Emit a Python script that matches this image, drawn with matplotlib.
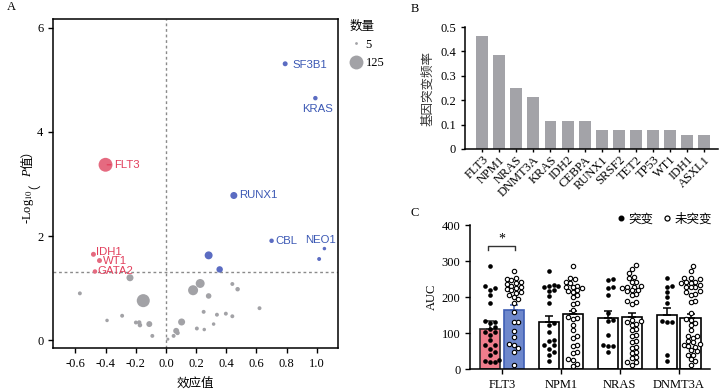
import numpy as np
import matplotlib
matplotlib.use('Agg')
import matplotlib.pyplot as plt
from matplotlib.lines import Line2D

plt.rcParams['font.family'] = ['Liberation Serif', 'Noto Sans CJK SC']
plt.rcParams['mathtext.fontset'] = 'stix'
plt.rcParams['axes.linewidth'] = 1.1
plt.rcParams['xtick.major.width'] = 1.0
plt.rcParams['ytick.major.width'] = 1.0

# ---------------- panel A : effect vs -log10(p), size = count
geneNames = ['SF3B1', 'KRAS', 'FLT3', 'RUNX1', 'CBL', 'NEO1', '', '', '', 'IDH1', 'WT1', 'GATA2',
             '', '', '', '', '', '', '', '', '', '', '', '', '', '', '',
             '', '', '', '', '', '', '', '', '', '', '', '', '']
effectSize = [0.79, 0.99, -0.40, 0.45, 0.70, 1.05, 1.015, 0.283, 0.356, -0.48, -0.44, -0.47,
              -0.238, -0.57, -0.15, 0.18, 0.227, 0.283, 0.44, 0.475, 0.62, 0.25, 0.338, 0.397, 0.44, 0.316,
              0.205, 0.254, 0.104, 0.068, 0.077, 0.051, 0.013, -0.09, -0.11, -0.177, -0.199, -0.172, -0.29, -0.39]
negLogP = [5.31, 4.65, 3.37, 2.78, 1.91, 1.76, 1.56, 1.63, 1.36, 1.65, 1.53, 1.32,
           1.20, 0.90, 0.76, 0.96, 1.09, 0.85, 1.08, 0.98, 0.615, 0.545, 0.49, 0.51, 0.46, 0.31,
           0.225, 0.205, 0.35, 0.18, 0.14, 0.083, 0.02, 0.083, 0.31, 0.34, 0.34, 0.29, 0.47, 0.38]
mutCount = [16, 13, 125, 32, 13, 8, 10, 41, 27, 16, 16, 13,
            32, 10, 110, 65, 52, 20, 10, 13, 10, 10, 10, 10, 10, 8,
            10, 8, 32, 23, 13, 10, 6, 10, 23, 13, 10, 13, 10, 8]
legendCounts = [5, 125]

# label offsets in points (dx, dy, ha)
labelOffsets = {'SF3B1': (5, -1, 'left'), 'KRAS': (13, -8, 'right'), 'FLT3': (6, 0, 'left'),
                'RUNX1': (4, 0, 'left'), 'CBL': (3, 0, 'left'), 'NEO1': (8, 6.5, 'right'),
                'IDH1': (2, 1.5, 'left'), 'WT1': (2.2, 0, 'left'), 'GATA2': (2, 0.3, 'left')}

# ---------------- panel B : mutation frequency
bGenes = ['FLT3', 'NPM1', 'NRAS', 'DNMT3A', 'KRAS', 'IDH2', 'CEBPA', 'RUNX1', 'SRSF2', 'TET2',
          'TP53', 'WT1', 'IDH1', 'ASXL1']
bFreq = [0.462, 0.385, 0.250, 0.212, 0.115, 0.115, 0.115, 0.077, 0.077, 0.077, 0.077, 0.077, 0.058, 0.058]

# ---------------- panel C : AUC mutated vs wild type
cGenes = ['FLT3', 'NPM1', 'NRAS', 'DNMT3A']
flt3Mut = [287, 230, 225, 220, 206, 183, 132, 135, 127, 118, 113, 103, 104, 95, 81, 66, 67, 56, 47, 41,
           26, 21, 21, 23]
flt3Wt = [273, 253, 251, 248, 243, 240, 236, 232, 228, 225, 222, 220, 215, 212, 205, 200, 195, 185,
          160, 132, 130, 106, 90, 69, 67, 58, 49, 12]
npm1Mut = [273, 233, 230, 230, 227, 220, 217, 202, 183, 127, 123, 104, 81, 78, 67, 67, 56, 49, 40, 22]
npm1Wt = [287, 253, 250, 243, 240, 232, 229, 228, 226, 220, 217, 215, 205, 200, 183, 180, 165, 146,
          142, 140, 123, 110, 91, 88, 67, 65, 49, 44, 28, 26, 16, 8]
nrasMut = [250, 248, 228, 225, 205, 155, 137, 135, 95, 67, 65, 65, 49]
nrasWt = [290, 279, 266, 255, 253, 243, 241, 232, 229, 229, 226, 220, 220, 217, 208, 206, 188, 186, 180,
          137, 134, 132, 125, 123, 112, 109, 95, 91, 78, 75, 63, 58, 49, 44, 35, 30, 21, 19, 12]
dnmt3aMut = [253, 230, 228, 213, 200, 183, 133, 132, 130, 40, 22]
dnmt3aWt = [285, 273, 253, 253, 251, 241, 241, 239, 239, 235, 229, 229, 227, 217, 215, 208, 206, 188, 186,
            155, 140, 137, 128, 123, 109, 91, 91, 88, 78, 75, 69, 67, 65, 63, 53, 51, 41, 40, 28, 23, 12]
meanMut = [112, 132, 143, 150]
semMut = [22, 16, 19, 20]
meanWt = [165, 152, 145, 142]
semWt = [12, 11, 10, 11]

RED = '#E56A80'
REDTXT = '#E23F5C'
BLUE = '#5B6CC2'
BLUETXT = '#3B58B4'
GRAY = '#A2A2A6'

fig = plt.figure(figsize=(7.21, 3.92), dpi=100)

# ======================= A
axA = fig.add_axes([0.0735, 0.1122, 0.3953, 0.8393])
cols = []
for x, y in zip(effectSize, negLogP):
    if y > 1.301 and x > 0:
        cols.append(BLUE)
    elif y > 1.301:
        cols.append(RED)
    else:
        cols.append(GRAY)
axA.scatter(effectSize, negLogP, s=np.array(mutCount) * 0.8, c=cols, linewidths=0, zorder=3)
axA.axvline(0, color='#8a8a8a', ls=(0, (2, 2)), lw=1, zorder=1)
axA.axhline(-np.log10(0.05), color='#8a8a8a', ls=(0, (2, 2)), lw=1, zorder=1)
for name, x, y in zip(geneNames, effectSize, negLogP):
    if not name:
        continue
    dx, dy, ha = labelOffsets[name]
    tc = BLUETXT if x > 0 else REDTXT
    ap = None
    if name == 'FLT3':
        ap = dict(arrowstyle='-', color=tc, lw=0.9, shrinkA=0, shrinkB=1.2)
    axA.annotate(name, (x, y), xytext=(dx, dy), textcoords='offset points', ha=ha, va='center',
                 fontsize=8.2, color=tc, family='Liberation Sans', arrowprops=ap, zorder=4)
axA.set_xlim(-0.748, 1.14)
axA.set_ylim(-0.15, 6.17)
axA.set_xticks(np.arange(-0.6, 1.01, 0.2))
axA.set_xticklabels(['-0.6', '-0.4', '-0.2', '0.0', '0.2', '0.4', '0.6', '0.8', '1.0'])
axA.set_yticks([0, 2, 4, 6])
axA.tick_params(labelsize=9, length=3.5)
axA.set_xlabel('效应值', fontsize=9, family='Noto Sans CJK SC', labelpad=5)

hs = [Line2D([], [], ls='none', marker='o', markersize=np.sqrt(c * 0.8), color=GRAY, mec='none')
      for c in legendCounts]
legA = axA.legend(hs, [str(c) for c in legendCounts], title='数量', loc='upper left',
                  bbox_to_anchor=(1.0, 1.03), frameon=False, fontsize=9, title_fontsize=9,
                  handletextpad=0.3, labelspacing=0.5, borderaxespad=0.5, handlelength=1.0,
                  alignment='left')

# ======================= B
axB = fig.add_axes([0.645, 0.6199, 0.3508, 0.3112])
posB = np.arange(len(bGenes))
axB.bar(posB, bFreq, width=0.7, color='#A3A3A8')
axB.set_xlim(-1.0, 13.8)
axB.set_ylim(0, 0.5)
axB.set_yticks([0, 0.1, 0.2, 0.3, 0.4, 0.5])
axB.set_yticklabels(['0', '0.1', '0.2', '0.3', '0.4', '0.5'])
axB.set_xticks(posB)
axB.set_xticklabels(bGenes, rotation=45, ha='right', rotation_mode='anchor')
axB.tick_params(labelsize=9, length=3)
axB.tick_params(axis='x', length=2.5, pad=1)
axB.spines['top'].set_visible(False)
axB.spines['right'].set_visible(False)
axB.set_ylabel('基因突变频率', fontsize=9, family='Noto Sans CJK SC', color='#333333', labelpad=4)

# ======================= C
axC = fig.add_axes([0.6519, 0.0579, 0.3328, 0.3681])
axC.set_xlim(-0.54, 3.53)
axC.set_ylim(0, 400)
fig.canvas.draw()
p0 = axC.transData.transform((0, 0))
p1 = axC.transData.transform((1, 100))
xPerPx = 1.0 / (p1[0] - p0[0])
yPx = (p1[1] - p0[1]) / 100.0


def beeswarm(values, dotPx=4.6, maxPx=9.2):
    steps = np.arange(dotPx / 2, maxPx + 0.01, dotPx / 2)
    cands = [0.0]
    for s in steps:
        cands += [s, -s]
    placed = []
    offs = np.zeros(len(values))
    for i in np.argsort(values):
        y = values[i] * yPx
        best, bestGap = 0.0, -1.0
        for c in cands:
            gap = min([np.hypot(c - px, y - py) for px, py in placed], default=99.0)
            if gap >= dotPx:
                best = c
                break
            if gap > bestGap:
                best, bestGap = c, gap
        placed.append((best, y))
        offs[i] = best * xPerPx
    return offs


mutSets = [flt3Mut, npm1Mut, nrasMut, dnmt3aMut]
wtSets = [flt3Wt, npm1Wt, nrasWt, dnmt3aWt]
barW = 0.34
for i in range(len(cGenes)):
    fm, em = ('#F07D8C', '#2b2b2b') if i == 0 else ('white', 'black')
    fw, ew = ('#6E88CC', '#3F5FB5') if i == 0 else ('white', 'black')
    axC.bar(i - 0.2, meanMut[i], width=barW, color=fm, edgecolor=em, lw=1.2, zorder=1)
    axC.bar(i + 0.2, meanWt[i], width=barW, color=fw, edgecolor=ew, lw=1.2, zorder=1)
    axC.errorbar(i - 0.2, meanMut[i], yerr=[[0], [semMut[i]]], color=em, capsize=3, lw=1.1,
                 capthick=1.1, zorder=2)
    axC.errorbar(i + 0.2, meanWt[i], yerr=[[0], [semWt[i]]], color=ew, capsize=3, lw=1.1,
                 capthick=1.1, zorder=2)
    mv = np.array(mutSets[i], dtype=float)
    wv = np.array(wtSets[i], dtype=float)
    axC.scatter(i - 0.2 + beeswarm(mv), mv, s=11, color='black', linewidths=0, zorder=3)
    axC.scatter(i + 0.2 + beeswarm(wv), wv, s=10, facecolor='white', edgecolor='black',
                linewidths=0.8, zorder=3)

# significance bracket FLT3
axC.plot([-0.23, -0.23, 0.23, 0.23], [331, 341, 341, 331], color='#333333', lw=1)
axC.text(0, 343, '*', ha='center', va='bottom', fontsize=10)

axC.set_xticks(range(len(cGenes)))
axC.set_xticklabels(cGenes)
axC.set_yticks([0, 100, 200, 300, 400])
axC.tick_params(labelsize=9, length=3.5)
axC.spines['top'].set_visible(False)
axC.spines['right'].set_visible(False)
axC.set_ylabel('AUC', fontsize=9, labelpad=3)
hc = [Line2D([], [], ls='none', marker='o', markersize=3.3, color='black'),
      Line2D([], [], ls='none', marker='o', markersize=3.6, mfc='white', mec='black', mew=0.9)]
axC.legend(hc, ['突变', '未突变'], loc='lower right', bbox_to_anchor=(1.03, 0.96), ncol=2,
           frameon=False, fontsize=9, handletextpad=0.1, columnspacing=0.6, handlelength=1.0,
           borderaxespad=0.0)


# ======================= y label of A, built from pieces
def chainYLabel(x, yCenter, pieces):
    fig.canvas.draw()
    renderer = fig.canvas.get_renderer()
    txts = []
    for s, fam, style in pieces:
        t = fig.text(x, yCenter, s, rotation=90, rotation_mode='anchor', ha='left', va='baseline',
                     family=fam, style=style, fontsize=9)
        txts.append(t)
    lens = [t.get_window_extent(renderer).height / fig.bbox.height for t in txts]
    y = yCenter - sum(lens) / 2
    for t, h in zip(txts, lens):
        t.set_y(y)
        y += h


chainYLabel(0.043, 0.53, [('-Log$_{10}$', ['Liberation Serif'], 'normal'),
                          ('（', ['Noto Sans CJK SC'], 'normal'),
                          ('P', ['Liberation Serif'], 'italic'),
                          ('值）', ['Noto Sans CJK SC'], 'normal')])

fig.text(0.009, 0.981, 'A', fontsize=9, ha='left', va='center')
fig.text(0.5695, 0.977, 'B', fontsize=9, ha='left', va='center')
fig.text(0.5695, 0.457, 'C', fontsize=9, ha='left', va='center')

fig.savefig('out.png', dpi=100)
